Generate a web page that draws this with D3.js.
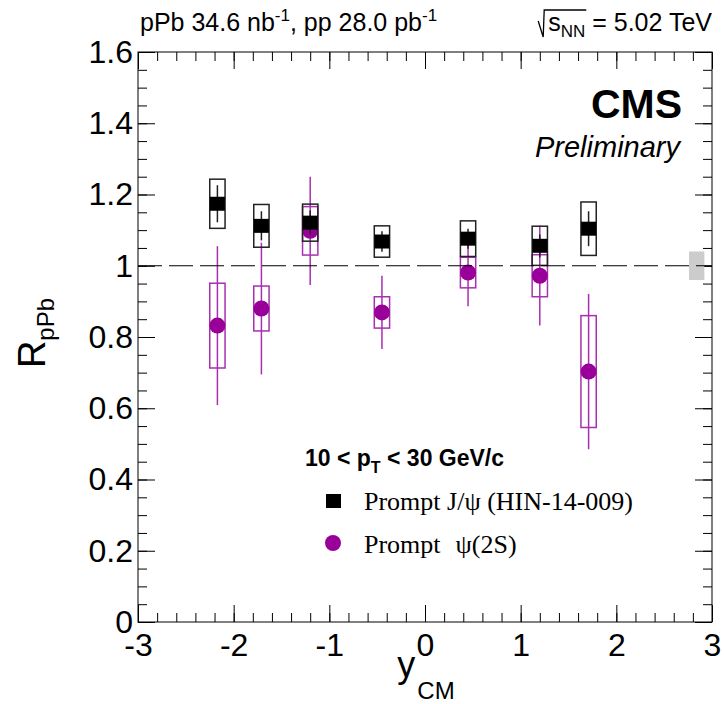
<!DOCTYPE html>
<html>
<head>
<meta charset="utf-8">
<script src="https://cdn.jsdelivr.net/npm/d3@7"></script>
<style>
  body { margin:0; background:#fff; }
  text { font-family: "Liberation Sans", Arial, sans-serif; }
  .serif { font-family: "Liberation Serif", "Times New Roman", serif; }
</style>
</head>
<body>
<svg id="chart" width="724" height="704"></svg>
<script>
// rapidity bin centres
var yCM = [-2.17, -1.71, -1.2, -0.45, 0.45, 1.2, 1.71];

// prompt J/psi (HIN-14-009)
var jpsiR    = [1.174, 1.112, 1.121, 1.068, 1.076, 1.056, 1.104];
var jpsiStat = [0.052, 0.041, 0.034, 0.029, 0.028, 0.032, 0.049];
var jpsiSyst = [0.069, 0.060, 0.052, 0.044, 0.050, 0.055, 0.075];

// prompt psi(2S)
var psiR    = [0.832, 0.880, 1.098, 0.869, 0.981, 0.972, 0.703];
var psiStat = [0.223, 0.185, 0.152, 0.103, 0.095, 0.140, 0.218];
var psiSyst = [0.119, 0.063, 0.068, 0.044, 0.043, 0.059, 0.157];

var globalUnc = 0.04;

var xMajor = [-3, -2, -1, 0, 1, 2, 3];
var yMajor = [0, 0.2, 0.4, 0.6, 0.8, 1, 1.2, 1.4, 1.6];

var svg = d3.select("#chart");
var L = 138, R = 712, T = 52, B = 622;

var x = d3.scaleLinear().domain([-3, 3]).range([L, R]);
var y = d3.scaleLinear().domain([0, 1.6]).range([B, T]);

var xMinor = d3.range(-3, 3.001, 0.2).map(function(d){ return +d.toFixed(1); });
var yMinor = d3.range(0, 1.601, 0.05).map(function(d){ return +d.toFixed(2); });

function styleAxis(g){
  g.select(".domain").remove();
  g.selectAll("line").attr("stroke", "#000").attr("stroke-width", 1);
  g.selectAll("text").attr("fill", "#000").attr("font-size", 32)
    .attr("font-family", "Liberation Sans, Arial, sans-serif");
}

// minor ticks
svg.append("g").attr("transform", "translate(" + L + ",0)")
  .call(d3.axisLeft(y).tickValues(yMinor).tickSize(-9).tickFormat("")).call(styleAxis);
svg.append("g").attr("transform", "translate(" + R + ",0)")
  .call(d3.axisRight(y).tickValues(yMinor).tickSize(-9).tickFormat("")).call(styleAxis);
svg.append("g").attr("transform", "translate(0," + B + ")")
  .call(d3.axisBottom(x).tickValues(xMinor).tickSize(-9).tickFormat("")).call(styleAxis);
svg.append("g").attr("transform", "translate(0," + T + ")")
  .call(d3.axisTop(x).tickValues(xMinor).tickSize(-9).tickFormat("")).call(styleAxis);

// major ticks + labels
svg.append("g").attr("transform", "translate(" + L + ",0)")
  .call(d3.axisLeft(y).tickValues(yMajor).tickSize(-17).tickPadding(5)
    .tickFormat(function(d){ return d3.format("")(+d.toFixed(1)); }))
  .call(styleAxis);
svg.append("g").attr("transform", "translate(" + R + ",0)")
  .call(d3.axisRight(y).tickValues(yMajor).tickSize(-17).tickFormat("")).call(styleAxis);
svg.append("g").attr("transform", "translate(0," + B + ")")
  .call(d3.axisBottom(x).tickValues(xMajor).tickSize(-17).tickPadding(11)
    .tickFormat(function(d){ return String(d).replace("\u2212", "-"); }))
  .call(styleAxis);
svg.append("g").attr("transform", "translate(0," + T + ")")
  .call(d3.axisTop(x).tickValues(xMajor).tickSize(-17).tickFormat("")).call(styleAxis);

// frame
svg.append("rect").attr("x", L).attr("y", T).attr("width", R - L).attr("height", B - T)
  .attr("fill", "none").attr("stroke", "#000").attr("stroke-width", 1);

// global uncertainty box
svg.append("rect")
  .attr("x", x(2.76)).attr("width", x(2.92) - x(2.76))
  .attr("y", y(1 + globalUnc)).attr("height", y(1 - globalUnc) - y(1 + globalUnc))
  .attr("fill", "#cccccc");

var bw = 0.08;
var purple = "#990099";

function drawSeries(vals, stat, syst, color, lineColor, marker){
  var g = svg.append("g");
  var idx = d3.range(vals.length);
  g.selectAll("rect.syst").data(idx).enter().append("rect")
    .attr("x", function(i){ return x(yCM[i] - bw); })
    .attr("width", function(i){ return x(yCM[i] + bw) - x(yCM[i] - bw); })
    .attr("y", function(i){ return y(vals[i] + syst[i]); })
    .attr("height", function(i){ return y(vals[i] - syst[i]) - y(vals[i] + syst[i]); })
    .attr("fill", "none").attr("stroke", lineColor).attr("stroke-width", 1.5);
  g.selectAll("line.stat").data(idx).enter().append("line")
    .attr("x1", function(i){ return x(yCM[i]); })
    .attr("x2", function(i){ return x(yCM[i]); })
    .attr("y1", function(i){ return y(vals[i] + stat[i]); })
    .attr("y2", function(i){ return y(vals[i] - stat[i]); })
    .attr("stroke", lineColor).attr("stroke-width", 1.5);
  if (marker === "square") {
    g.selectAll("rect.pt").data(idx).enter().append("rect")
      .attr("x", function(i){ return x(yCM[i]) - 7.5; })
      .attr("y", function(i){ return y(vals[i]) - 7; })
      .attr("width", 15).attr("height", 14).attr("fill", color);
  } else {
    g.selectAll("circle.pt").data(idx).enter().append("circle")
      .attr("cx", function(i){ return x(yCM[i]); })
      .attr("cy", function(i){ return y(vals[i]); })
      .attr("r", 8).attr("fill", color);
  }
}

drawSeries(psiR, psiStat, psiSyst, purple, "#a830b0", "circle");
drawSeries(jpsiR, jpsiStat, jpsiSyst, "#000", "#222", "square");

// unity line
svg.append("line").attr("x1", L).attr("x2", R).attr("y1", y(1)).attr("y2", y(1))
  .attr("stroke", "#000").attr("stroke-width", 1.2).attr("stroke-dasharray", "24,7");

// axis titles
var yt = svg.append("text").attr("transform", "translate(45," + ((T + B) / 2 - 4) + ") rotate(-90)")
  .attr("text-anchor", "middle").attr("font-size", 38);
yt.append("tspan").text("R");
yt.append("tspan").attr("font-size", 24).attr("dy", 9).text("pPb");

var xt = svg.append("text").attr("x", 426).attr("y", 677).attr("text-anchor", "middle").attr("font-size", 36);
xt.append("tspan").text("y");
xt.append("tspan").attr("font-size", 24).attr("dy", 22).attr("dx", 2).text("CM");

// top labels
var lumi = svg.append("text").attr("x", 140).attr("y", 31).attr("font-size", 25);
lumi.append("tspan").text("pPb 34.6 nb");
lumi.append("tspan").attr("font-size", 17).attr("dy", -10).text("-1");
lumi.append("tspan").attr("dy", 10).text(", pp 28.0 pb");
lumi.append("tspan").attr("font-size", 17).attr("dy", -10).text("-1");

var en = svg.append("text").attr("x", 712).attr("y", 31).attr("text-anchor", "end").attr("font-size", 25);
var sSpan = en.append("tspan").text("s");
var nnSpan = en.append("tspan").attr("font-size", 17).attr("dy", 6).text("NN");
en.append("tspan").attr("dy", -6).text(" = 5.02 TeV");
// sqrt sign placed from the rendered text
var bb = en.node().getBBox();
var sx = bb.x;
var nnEnd = sx + sSpan.node().getComputedTextLength() + nnSpan.node().getComputedTextLength();
svg.append("path")
  .attr("d", "M" + (sx - 10) + ",21 L" + (sx - 5) + ",37 L" + (sx - 4) + ",10 L" + (nnEnd + 1) + ",10")
  .attr("fill", "none").attr("stroke", "#000").attr("stroke-width", 1.3);

svg.append("text").attr("x", 682).attr("y", 118).attr("text-anchor", "end")
  .attr("font-size", 41).attr("font-weight", "bold").text("CMS");
svg.append("text").attr("x", 680).attr("y", 157).attr("text-anchor", "end")
  .attr("font-size", 29).attr("font-style", "italic").text("Preliminary");

// legend
var lh = svg.append("text").attr("x", 305).attr("y", 466).attr("font-size", 23).attr("font-weight", "bold");
lh.append("tspan").text("10 < p");
lh.append("tspan").attr("font-size", 16).attr("dy", 7).text("T");
lh.append("tspan").attr("dy", -7).text(" < 30 GeV/c");

svg.append("rect").attr("x", 326).attr("y", 494).attr("width", 15).attr("height", 14).attr("fill", "#000");
svg.append("text").attr("class", "serif").attr("x", 364).attr("y", 510).attr("font-size", 26)
  .text("Prompt J/\u03C8 (HIN-14-009)");
svg.append("circle").attr("cx", 333).attr("cy", 543).attr("r", 8).attr("fill", purple);
var le2 = svg.append("text").attr("class", "serif").attr("x", 364).attr("y", 553).attr("font-size", 26);
le2.append("tspan").text("Prompt");
le2.append("tspan").attr("dx", 15).text("\u03C8(2S)");
</script>
</body>
</html>
